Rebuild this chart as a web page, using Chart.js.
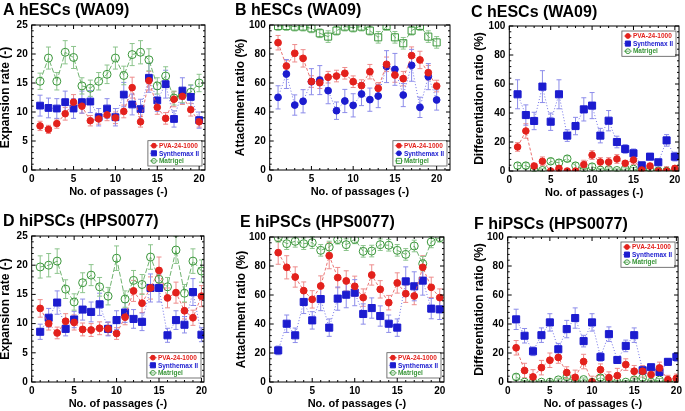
<!DOCTYPE html>
<html>
<head>
<meta charset="utf-8">
<script src="https://cdn.jsdelivr.net/npm/chart.js@4/dist/chart.umd.min.js"></script>
<style>
  body { margin: 0; background: #fff; width: 685px; height: 411px; position: relative; overflow: hidden; }
  canvas { position: absolute; }
</style>
</head>
<body>
<canvas id="cA" width="228" height="205" style="left:0;top:0"></canvas>
<canvas id="cB" width="228" height="205" style="left:228px;top:0"></canvas>
<canvas id="cC" width="229" height="205" style="left:456px;top:0"></canvas>
<canvas id="cD" width="228" height="206" style="left:0;top:205px"></canvas>
<canvas id="cE" width="228" height="206" style="left:228px;top:205px"></canvas>
<canvas id="cF" width="229" height="206" style="left:456px;top:205px"></canvas>
<script>
// passages and tick labels
const passages = [1, 2, 3, 4, 5, 6, 7, 8, 9, 10, 11, 12, 13, 14, 15, 16, 17, 18, 19, 20];
const xTicks = [0, 5, 10, 15, 20];
const expTicks = [0, 5, 10, 15, 20, 25];
const pctTicks = [0, 20, 40, 60, 80, 100];
const seriesNames = ['PVA-24-1000', 'Synthemax II', 'Matrigel'];

// A: hESCs expansion rate
const aPva = [7.6, 7.0, 8.0, 9.7, 11.7, 11.0, 8.5, 8.8, 9.5, 9.0, 10.1, 14.2, 8.3, 15.4, 10.8, 8.9, 12.2, 12.7, 10.4, 8.3];
const aPvaErr = [0.8, 0.7, 0.8, 1.1, 1.3, 1.2, 0.9, 0.9, 1.0, 1.0, 1.1, 1.8, 0.9, 1.6, 1.2, 1.0, 1.3, 1.4, 1.1, 0.9];
const aSyn = [11.1, 10.7, 10.6, 11.7, 10.6, 11.7, 11.8, 9.1, 10.6, 9.1, 13.0, 11.3, 10.5, 15.9, 12.0, 14.8, 8.8, 13.7, 12.6, 8.6];
const aSynErr = [1.8, 1.7, 1.7, 1.9, 1.7, 1.9, 1.9, 1.5, 1.7, 1.5, 2.1, 1.8, 1.7, 2.5, 1.9, 2.4, 1.4, 2.2, 2.0, 1.4];
const aMat = [15.3, 19.3, 15.3, 20.3, 19.4, 14.5, 14.1, 15.3, 16.5, 19.3, 16.3, 19.9, 20.3, 19.0, 14.5, 16.2, 12.4, 12.9, 13.4, 15.0];
const aMatErr = [1.4, 1.9, 1.5, 2.0, 1.9, 1.4, 1.4, 1.5, 1.6, 1.9, 1.6, 1.9, 2.0, 1.9, 1.4, 1.6, 1.2, 1.3, 1.3, 1.5];

// B: hESCs attachment ratio
const bPva = [87.8, 71.7, 80.5, 77.0, 61.0, 60.2, 64.0, 64.8, 66.7, 60.9, 58.2, 67.8, 56.3, 72.9, 65.5, 63.0, 78.9, 75.9, 67.1, 57.9];
const bPvaErr = [5, 4, 6, 6, 4, 4, 4, 4, 4, 4, 4, 5, 4, 5, 5, 5, 6, 6, 5, 4];
const bSyn = [50.1, 66.2, 44.8, 47.4, 60.9, 62.0, 54.7, 40.9, 47.6, 44.6, 52.4, 48.5, 51.0, 71.3, 69.4, 51.7, 72.2, 43.2, 64.4, 48.3];
const bSynErr = [8, 10, 7, 8, 9, 10, 9, 6, 8, 8, 8, 8, 8, 11, 11, 8, 11, 7, 9, 7];
const bMat = [99.3, 99.3, 98.9, 98.9, 97.7, 94.3, 92.0, 96.1, 98.9, 98.2, 98.9, 96.1, 91.5, 99.3, 91.5, 87.4, 96.1, 99.3, 92.0, 88.0];
const bMatErr = [3, 3, 3, 3, 3, 3, 4, 3, 3, 3, 3, 3, 4, 3, 4, 4, 3, 3, 4, 4];

// C: hESCs differentiation ratio
const cPva = [16.6, 27.6, 3.4, 6.7, 0, 1.8, 0, 0, 4.4, 11.0, 6.2, 6.2, 8.3, 5.3, 7.6, 0.7, 3.4, 0, 0, 1.8];
const cPvaErr = [3, 5, 2, 3, 0.5, 2, 1, 1, 3, 3, 3, 3, 3, 2, 3, 1, 2, 1, 3, 2];
const cSyn = [52.9, 38.6, 34.5, 58.2, 34.0, 52.9, 24.4, 31.0, 42.5, 45.1, 24.4, 34.7, 20.0, 15.2, 12.2, 3.9, 9.9, 6.0, 21.1, 9.9];
const cSynErr = [10, 7, 6, 11, 6, 10, 4, 6, 8, 9, 5, 7, 4, 3, 3, 2, 2, 2, 4, 3];
const cMat = [3.7, 3.7, 0.7, 0.5, 6.7, 5.7, 8.5, 3.7, 0.7, 3.0, 0.7, 1.1, 0.5, 1.6, 1.4, 0, 0.7, 0.2, 0, 0];
const cMatErr = [2, 2, 1, 1, 2, 2, 2, 2, 1, 2, 1, 1, 1, 1, 1, 1, 1, 1, 1, 1];

// D: hiPSCs expansion rate
const dPva = [12.6, 10.0, 8.4, 10.4, 10.2, 9.0, 8.9, 9.2, 9.1, 8.3, 11.1, 15.6, 13.5, 16.1, 19.1, 14.4, 15.3, 12.2, 11.0, 14.7];
const dPvaErr = [1.5, 1.1, 1.0, 1.3, 1.3, 1.1, 1.1, 1.1, 1.1, 1.0, 1.3, 1.8, 1.6, 1.9, 2.3, 1.7, 1.8, 1.4, 1.3, 1.8];
const dSyn = [8.6, 11.0, 13.6, 9.1, 10.7, 12.4, 12.0, 13.3, 9.1, 10.6, 11.9, 10.8, 10.3, 16.1, 16.1, 8.0, 10.6, 9.8, 15.4, 8.1];
const dSynErr = [1.3, 1.6, 2.0, 1.2, 1.4, 1.8, 1.7, 1.9, 1.2, 1.6, 1.7, 1.6, 1.5, 2.4, 2.4, 1.2, 1.6, 1.4, 2.3, 1.2];
const dMat = [19.7, 20.0, 20.7, 15.9, 13.7, 17.0, 18.3, 16.3, 14.7, 21.2, 14.2, 17.4, 16.7, 21.4, 17.6, 16.3, 22.6, 15.2, 20.7, 19.0];
const dMatErr = [1.9, 2.0, 2.1, 1.6, 1.4, 1.7, 1.8, 1.6, 1.5, 2.1, 1.4, 1.7, 1.7, 2.1, 1.8, 1.6, 2.3, 1.5, 2.1, 1.9];

// E: hiPSCs attachment ratio
const ePva = [89.2, 79.1, 72.4, 63.0, 57.0, 66.2, 87.1, 72.0, 69.7, 66.0, 58.2, 73.8, 63.9, 54.7, 68.3, 60.9, 59.3, 79.1, 65.3, 58.2];
const ePvaErr = [8, 8, 7, 6, 6, 7, 9, 7, 7, 7, 6, 7, 6, 5, 7, 6, 6, 8, 7, 6];
const eSyn = [21.8, 40.2, 32.2, 55.2, 42.5, 57.2, 37.5, 57.5, 60.2, 61.6, 46.9, 51.0, 45.5, 40.2, 37.5, 69.4, 66.0, 69.9, 50.6, 50.1];
const eSynErr = [3, 6, 5, 8, 6, 8, 6, 8, 9, 9, 7, 7, 7, 6, 6, 10, 10, 10, 7, 7];
const eMat = [99.5, 95.4, 97.0, 95.4, 96.1, 90.8, 93.1, 98.2, 94.7, 98.4, 90.1, 90.3, 94.7, 94.3, 90.8, 88.0, 93.8, 81.6, 96.6, 99.5];
const eMatErr = [3, 4, 4, 4, 4, 4, 4, 3, 4, 3, 4, 4, 4, 4, 4, 4, 4, 5, 4, 3];

// F: hiPSCs differentiation ratio
const fPva = [23.6, 7.9, 3.5, 9.9, 15.0, 16.9, 6.5, 3.2, 14.1, 0, 8.5, 3.0, 4.4, 12.0, 7.4, 7.4, 5.1, 9.7, 1.6, 2.5];
const fPvaErr = [5, 5, 5, 5, 5, 4, 4, 5, 5, 4, 4, 4, 5, 4, 4, 4, 4, 4, 3, 3];
const fSyn = [43.2, 31.9, 21.2, 32.3, 41.1, 22.6, 36.5, 44.1, 28.2, 41.1, 17.3, 33.0, 15.2, 24.9, 32.3, 8.1, 10.2, 6.9, 13.9, 17.3];
const fSynErr = [7, 5, 3, 5, 6, 4, 6, 7, 4, 6, 3, 5, 2, 4, 5, 2, 2, 2, 2, 3];
const fMat = [3.5, 0, 0, 0, 0, 1.6, 3.5, 0, 1.8, 0, 3.0, 0, 0, 0, 1.6, 3.0, 0, 1.4, 0, 0];
const fMatErr = [2, 1, 1, 1, 1, 1, 2, 1, 1, 1, 2, 1, 1, 1, 1, 2, 1, 1, 1, 1];

const FONT = '"Liberation Sans", Arial, sans-serif';
Chart.defaults.font.family = FONT;
Chart.defaults.font.weight = 'bold';
Chart.defaults.color = '#000';

const RED = '#e3211c', BLUE = '#1c1ccf', GREEN = '#3a963a';
const style = {
  red:   { color: RED,   line: 'rgba(230,90,90,0.85)',  err: '#ee8c8c', dash: [3, 2] },
  blue:  { color: BLUE,  line: 'rgba(100,100,230,0.9)', err: '#8c8cea', dash: [1, 2] },
  green: { color: GREEN, line: 'rgba(95,170,95,0.9)',   err: '#8cc48c', dash: [5, 2] }
};

function series(label, values, errors, s, shape, radius, open) {
  return {
    label: label,
    data: passages.map((p, i) => ({ x: p, y: values[i] })),
    errors: errors,
    errColor: s.err,
    markColor: s.color,
    showLine: true,
    borderColor: s.line,
    borderWidth: 1,
    borderDash: s.dash,
    fill: false,
    tension: 0,
    pointStyle: shape,
    pointRadius: radius,
    pointBorderWidth: 1,
    pointBorderColor: s.color,
    pointBackgroundColor: open ? 'rgba(0,0,0,0)' : s.color
  };
}

// vertical error bars, drawn through the y scale
const errorBars = {
  id: 'errorBars',
  beforeDatasetsDraw(chart) {
    const ctx = chart.ctx, a = chart.chartArea, ys = chart.scales.y;
    ctx.save();
    ctx.beginPath();
    ctx.rect(a.left, a.top - 1, a.width, a.height + 2);
    ctx.clip();
    chart.data.datasets.forEach((ds, i) => {
      const meta = chart.getDatasetMeta(i);
      ctx.strokeStyle = ds.errColor;
      ctx.lineWidth = 1;
      meta.data.forEach((pt, j) => {
        const v = ds.data[j].y, e = ds.errors[j];
        const y1 = ys.getPixelForValue(v - e), y2 = ys.getPixelForValue(v + e);
        ctx.beginPath();
        ctx.moveTo(pt.x, y1); ctx.lineTo(pt.x, y2);
        ctx.moveTo(pt.x - 2.5, y1); ctx.lineTo(pt.x + 2.5, y1);
        ctx.moveTo(pt.x - 2.5, y2); ctx.lineTo(pt.x + 2.5, y2);
        ctx.stroke();
      });
    });
    ctx.restore();
  }
};

function drawMark(ctx, ds, x, y, r) {
  ctx.beginPath();
  if (ds.pointStyle === 'rect') {
    const h = r / Math.SQRT2;
    ctx.rect(x - h, y - h, 2 * h, 2 * h);
  } else {
    ctx.arc(x, y, r, 0, Math.PI * 2);
  }
  if (ds.pointBackgroundColor !== 'rgba(0,0,0,0)') {
    ctx.fillStyle = ds.markColor;
    ctx.fill();
  }
  ctx.strokeStyle = ds.markColor;
  ctx.lineWidth = 1;
  ctx.stroke();
}

// boxed legend inside the plot, plus frame with inward ticks
const framePlugin = {
  id: 'frame',
  afterDraw(chart, args, opts) {
    const ctx = chart.ctx, a = chart.chartArea;
    const xs = chart.scales.x, ys = chart.scales.y;
    ctx.save();

    // legend
    const dss = chart.data.datasets;
    ctx.font = 'bold 6.5px ' + FONT;
    const tw = Math.max(...dss.map(d => ctx.measureText(d.label).width));
    const rowH = 7.6, w = tw + 14, h = dss.length * rowH + 2.5;
    const x0 = a.right - 3 - w;
    const y0 = opts.corner === 'top' ? a.top + 5 : a.bottom - 4 - h;
    ctx.fillStyle = '#fff';
    ctx.fillRect(x0, y0, w, h);
    ctx.strokeStyle = '#555';
    ctx.lineWidth = 0.8;
    ctx.strokeRect(x0, y0, w, h);
    dss.forEach((d, i) => {
      const y = y0 + 5 + i * rowH;
      ctx.setLineDash(d.borderDash);
      ctx.strokeStyle = d.borderColor;
      ctx.lineWidth = 1;
      ctx.beginPath(); ctx.moveTo(x0 + 2, y); ctx.lineTo(x0 + 10, y); ctx.stroke();
      ctx.setLineDash([]);
      drawMark(ctx, d, x0 + 6, y, d.pointStyle === 'rect' ? 3.6 : 2.4);
      ctx.fillStyle = d.markColor;
      ctx.textBaseline = 'middle';
      ctx.textAlign = 'left';
      ctx.fillText(d.label, x0 + 11, y + 0.5);
    });

    // frame
    ctx.strokeStyle = '#000';
    ctx.lineWidth = 1;
    ctx.strokeRect(a.left, a.top, a.width, a.height);
    ctx.beginPath();
    for (let v = 0; v <= xs.max + 1e-6; v += 1) {
      const px = xs.getPixelForValue(v), len = xTicks.includes(v) ? 4 : 2;
      ctx.moveTo(px, a.bottom); ctx.lineTo(px, a.bottom - len);
      ctx.moveTo(px, a.top); ctx.lineTo(px, a.top + len);
    }
    for (let v = 0; v <= ys.max + 1e-6; v += opts.yMinor) {
      const py = ys.getPixelForValue(v), len = opts.yMajor.includes(v) ? 4 : 2;
      ctx.moveTo(a.left, py); ctx.lineTo(a.left + len, py);
      ctx.moveTo(a.right, py); ctx.lineTo(a.right - len, py);
    }
    ctx.stroke();
    ctx.restore();
  }
};

function makePanel(id, title, yTitle, yTicks, yMinor, g, corner, datasets) {
  const xH = 28;
  new Chart(document.getElementById(id), {
    type: 'scatter',
    data: { datasets: datasets },
    plugins: [errorBars, framePlugin],
    options: {
      responsive: false,
      animation: false,
      layout: { padding: { left: g.titleX, right: g.w - g.right, top: 0, bottom: g.h - g.bottom - xH } },
      scales: {
        x: {
          type: 'linear', min: 0, max: g.xMax,
          grid: { display: false, drawTicks: false }, border: { display: false },
          afterBuildTicks: s => { s.ticks = xTicks.map(v => ({ value: v })); },
          afterFit: s => { s.height = xH; },
          ticks: { padding: 3, font: { size: 10, weight: 'bold' }, color: '#000', maxRotation: 0 },
          title: { display: true, text: 'No. of passages (-)', font: { size: 11, weight: 'bold', lineHeight: 1 }, padding: { top: 0, bottom: 0.5 }, color: '#000' }
        },
        y: {
          type: 'linear', min: 0, max: yTicks[yTicks.length - 1],
          grid: { display: false, drawTicks: false }, border: { display: false },
          afterBuildTicks: s => { s.ticks = yTicks.map(v => ({ value: v })); },
          afterFit: s => { s.width = g.left - g.titleX; },
          ticks: { padding: 4, font: { size: 10, weight: 'bold' }, color: '#000' },
          title: { display: true, text: yTitle, font: { size: 12, weight: 'bold', lineHeight: 1 }, padding: { top: g.yTitleC - g.titleX - 6, bottom: 0 }, color: '#000' }
        }
      },
      plugins: {
        legend: { display: false },
        tooltip: { enabled: false },
        title: {
          display: true, text: title, align: 'start', color: '#000',
          font: { size: 16, weight: 'bold', lineHeight: 1 },
          padding: { top: g.titleMid - 8, bottom: g.top - g.titleMid - 8 }
        },
        frame: { corner: corner, yMinor: yMinor, yMajor: yTicks }
      }
    }
  });
}

makePanel('cA', 'A hESCs (WA09)', 'Expansion rate (-)', expTicks, 1,
  { w: 228, h: 205, left: 31.7, right: 205, top: 25, bottom: 170, titleX: 3, titleMid: 10.5, yTitleC: 6, xMax: 20.7 }, 'bottom', [
    series(seriesNames[0], aPva, aPvaErr, style.red, 'circle', 3.3, false),
    series(seriesNames[1], aSyn, aSynErr, style.blue, 'rect', 4.8, false),
    series(seriesNames[2], aMat, aMatErr, style.green, 'circle', 4, true)
  ]);

makePanel('cB', 'B hESCs (WA09)', 'Attachment ratio (%)', pctTicks, 4,
  { w: 228, h: 205, left: 41.7, right: 226, top: 25, bottom: 170, titleX: 7, titleMid: 10.5, yTitleC: 13, xMax: 21.6 }, 'bottom', [
    series(seriesNames[0], bPva, bPvaErr, style.red, 'circle', 3.4, false),
    series(seriesNames[1], bSyn, bSynErr, style.blue, 'circle', 3.4, false),
    series(seriesNames[2], bMat, bMatErr, style.green, 'rect', 5, true)
  ]);

makePanel('cC', 'C hESCs (WA09)', 'Differentiation ratio (%)', pctTicks, 4,
  { w: 229, h: 205, left: 53.3, right: 226.7, top: 26, bottom: 171, titleX: 15, titleMid: 13, yTitleC: 24, xMax: 20.5 }, 'top', [
    series(seriesNames[0], cPva, cPvaErr, style.red, 'circle', 3.3, false),
    series(seriesNames[1], cSyn, cSynErr, style.blue, 'rect', 5, false),
    series(seriesNames[2], cMat, cMatErr, style.green, 'circle', 3.8, true)
  ]);

makePanel('cD', 'D hiPSCs (HPS0077)', 'Expansion rate (-)', expTicks, 1,
  { w: 228, h: 206, left: 31.7, right: 204, top: 31, bottom: 177, titleX: 3, titleMid: 17, yTitleC: 6, xMax: 20.3 }, 'bottom', [
    series(seriesNames[0], dPva, dPvaErr, style.red, 'circle', 3.4, false),
    series(seriesNames[1], dSyn, dSynErr, style.blue, 'rect', 5, false),
    series(seriesNames[2], dMat, dMatErr, style.green, 'circle', 4, true)
  ]);

makePanel('cE', 'E hiPSCs (HPS0077)', 'Attachment ratio (%)', pctTicks, 4,
  { w: 228, h: 206, left: 41.7, right: 216, top: 32, bottom: 177, titleX: 12, titleMid: 18, yTitleC: 14, xMax: 20.5 }, 'bottom', [
    series(seriesNames[0], ePva, ePvaErr, style.red, 'circle', 3.4, false),
    series(seriesNames[1], eSyn, eSynErr, style.blue, 'rect', 5, false),
    series(seriesNames[2], eMat, eMatErr, style.green, 'circle', 4, true)
  ]);

makePanel('cF', 'F hiPSCs (HPS0077)', 'Differentiation ratio (%)', pctTicks, 4,
  { w: 229, h: 206, left: 51.7, right: 223.3, top: 32, bottom: 177, titleX: 18, titleMid: 20, yTitleC: 24, xMax: 20.2 }, 'top', [
    series(seriesNames[0], fPva, fPvaErr, style.red, 'circle', 3.4, false),
    series(seriesNames[1], fSyn, fSynErr, style.blue, 'rect', 5, false),
    series(seriesNames[2], fMat, fMatErr, style.green, 'circle', 3.8, true)
  ]);
</script>
</body>
</html>
